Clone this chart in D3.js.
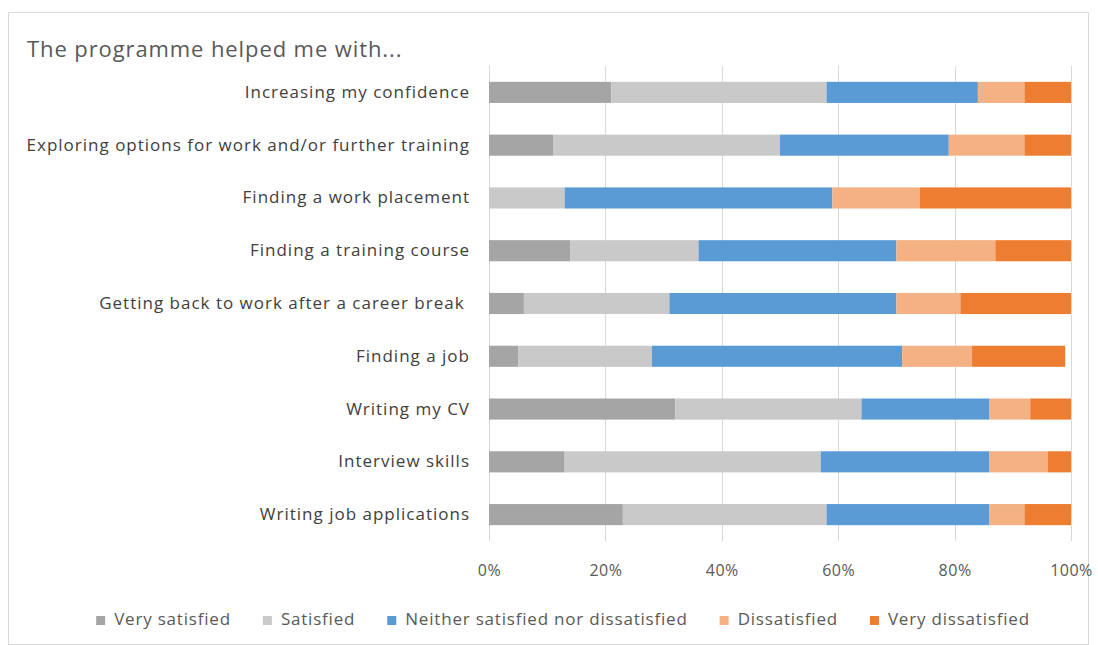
<!DOCTYPE html>
<html>
<head>
<meta charset="utf-8">
<script src="https://cdn.jsdelivr.net/npm/d3@7"></script>
<style>
  html, body { margin: 0; padding: 0; background: #fff; }
  svg { display: block; }
  text { font-family: "Open Sans", "Noto Sans", sans-serif; }
</style>
</head>
<body>
<svg id="chart" width="1098" height="645"></svg>
<script>
const title = "The programme helped me with...";
const categories = [
  "Increasing my confidence",
  "Exploring options for work and/or further training",
  "Finding a work placement",
  "Finding a training course",
  "Getting back to work after a career break ",
  "Finding a job",
  "Writing my CV",
  "Interview skills",
  "Writing job applications"
];
const seriesNames = ["Very satisfied", "Satisfied", "Neither satisfied nor dissatisfied", "Dissatisfied", "Very dissatisfied"];
const verySatisfied    = [21, 11,  0, 14,  6,  5, 32, 13, 23];
const satisfied        = [37, 39, 13, 22, 25, 23, 32, 44, 35];
const neither          = [26, 29, 46, 34, 39, 43, 22, 29, 28];
const dissatisfied     = [ 8, 13, 15, 17, 11, 12,  7, 10,  6];
const veryDissatisfied = [ 8,  8, 26, 13, 19, 16,  7,  4,  8];
const tickValues = [0, 0.2, 0.4, 0.6, 0.8, 1.0];
const colors = ["#A5A5A5", "#C9C9C9", "#5B9BD5", "#F4B183", "#ED7D31"];

const seriesValues = [verySatisfied, satisfied, neither, dissatisfied, veryDissatisfied];
const table = categories.map((c, i) => {
  const row = { category: c };
  seriesNames.forEach((s, j) => row[s] = seriesValues[j][i] / 100);
  return row;
});

const svg = d3.select("#chart");

// outer chart border
svg.append("rect")
  .attr("x", 8.5).attr("y", 12.5).attr("width", 1080).attr("height", 632)
  .attr("fill", "#fff").attr("stroke", "#D9D9D9").attr("stroke-width", 1);

svg.append("text")
  .attr("x", 27).attr("y", 57)
  .attr("font-size", 22).attr("letter-spacing", 0.9).attr("fill", "#595959")
  .text(title);

const x = d3.scaleLinear().domain([0, 1]).range([489, 1071]);
const y = d3.scaleBand().domain(categories).range([66, 541]).paddingInner(0.6).paddingOuter(0.3);

// gridlines
svg.append("g")
  .selectAll("line")
  .data(tickValues)
  .join("line")
  .attr("x1", d => Math.round(x(d)) + 0.5).attr("x2", d => Math.round(x(d)) + 0.5)
  .attr("y1", 66).attr("y2", 541)
  .attr("stroke", "#D9D9D9").attr("stroke-width", 1);

const stack = d3.stack().keys(seriesNames)(table);

svg.append("g")
  .selectAll("g")
  .data(stack)
  .join("g")
  .attr("fill", (d, i) => colors[i])
  .selectAll("rect")
  .data(d => d)
  .join("rect")
  .attr("x", d => x(d[0]))
  .attr("width", d => x(d[1]) - x(d[0]))
  .attr("y", d => y(d.data.category))
  .attr("height", y.bandwidth());

// x axis tick labels
const xAxis = d3.axisBottom(x).tickValues(tickValues).tickFormat(d3.format(".0%")).tickSize(0).tickPadding(0);
const gx = svg.append("g").attr("transform", "translate(0,565)").call(xAxis);
gx.select(".domain").remove();
gx.selectAll("text").attr("font-size", 16).attr("letter-spacing", 0.5).attr("fill", "#595959").attr("font-family", "Open Sans");

// y axis labels
const yAxis = d3.axisLeft(y).tickSize(0).tickPadding(0);
const gy = svg.append("g").attr("transform", "translate(470,0)").call(yAxis);
gy.select(".domain").remove();
gy.selectAll("text").attr("font-size", 17).attr("letter-spacing", 1).attr("fill", "#404040")
  .attr("font-family", "Open Sans").style("white-space", "pre");

// legend
const legend = svg.append("g").attr("class", "legend");
const items = legend.selectAll("g").data(seriesNames).join("g");
items.append("rect").attr("width", 9).attr("height", 9).attr("y", -9).attr("fill", (d, i) => colors[i]);
items.append("text").attr("x", 18).attr("y", 0).attr("font-size", 17).attr("letter-spacing", 0.8).attr("fill", "#595959").text(d => d);
let widths = [];
items.each(function() { widths.push(18 + d3.select(this).select("text").node().getComputedTextLength()); });
const gap = 32;
const total = d3.sum(widths) + gap * (widths.length - 1);
let cx = 563 - total / 2;
items.attr("transform", (d, i) => {
  const t = `translate(${cx},625)`;
  cx += widths[i] + gap;
  return t;
});
</script>
</body>
</html>
